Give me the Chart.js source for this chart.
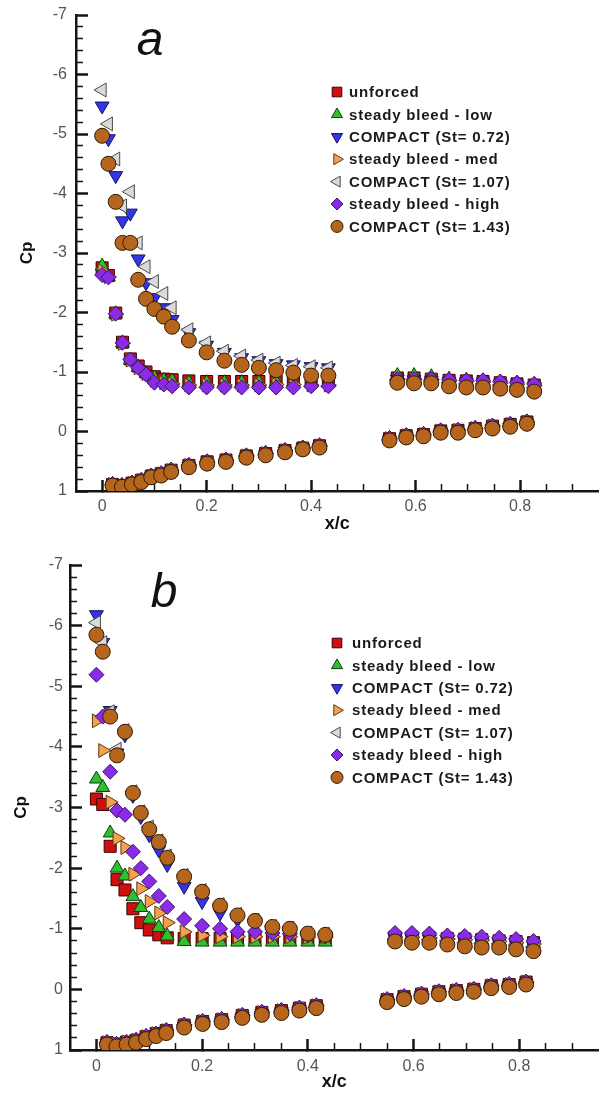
<!DOCTYPE html>
<html>
<head>
<meta charset="utf-8">
<script src="https://cdn.jsdelivr.net/npm/chart.js@4.4.1/dist/chart.umd.min.js"></script>
<style>
    html, body { margin: 0; padding: 0; background: #fff; }
    #wrap { position: relative; width: 608px; height: 1098px; }
    canvas { position: absolute; left: 0; }
</style>
</head>
<body>
<div id="wrap">
    <canvas id="chartA" width="608" height="549" style="top:0"></canvas>
    <canvas id="chartB" width="608" height="549" style="top:549px"></canvas>
</div>
<script>
// pressure tap stations: upper surface (front + aft), then lower surface
const xUpper = [0, 0.012, 0.026, 0.039, 0.054, 0.069, 0.084, 0.1, 0.118, 0.134, 0.166, 0.2, 0.234, 0.267, 0.3, 0.333, 0.366, 0.4, 0.433,
                0.565, 0.597, 0.63, 0.664, 0.697, 0.729, 0.762, 0.794, 0.827]
const xLower = [0.02, 0.038, 0.057, 0.075, 0.094, 0.113, 0.132, 0.166, 0.201, 0.237, 0.276, 0.313, 0.35, 0.384, 0.416,
                0.55, 0.582, 0.615, 0.648, 0.681, 0.714, 0.747, 0.781, 0.813]

const seriesNames = ['unforced', 'steady bleed - low', 'COMPACT (St= 0.72)', 'steady bleed - med',
                     'COMPACT (St= 1.07)', 'steady bleed - high', 'COMPACT (St= 1.43)']

const xTickVals = [0, 0.2, 0.4, 0.6, 0.8]
const xTickLabels = ['0', '0.2', '0.4', '0.6', '0.8']
const yTickVals = [-7, -6, -5, -4, -3, -2, -1, 0, 1]
const yTickLabels = ['-7', '-6', '-5', '-4', '-3', '-2', '-1', '0', '1']

// panel a : Cp upper (28) then lower (24)
const cpA_unforced = [-2.75, -2.62, -1.99, -1.5, -1.22, -1.1, -1.0, -0.92, -0.88, -0.87, -0.85, -0.84, -0.84, -0.84, -0.84, -0.85, -0.85, -0.84, -0.84,
                      -0.9, -0.9, -0.88, -0.86, -0.85, -0.84, -0.82, -0.8, -0.78,
                      0.89, 0.91, 0.87, 0.82, 0.75, 0.71, 0.65, 0.57, 0.51, 0.48, 0.41, 0.37, 0.32, 0.28, 0.24,
                      0.12, 0.07, 0.05, -0.01, -0.02, -0.05, -0.09, -0.12, -0.16]
const cpA_low = [-2.78, -2.6, -1.98, -1.49, -1.2, -1.08, -0.98, -0.9, -0.86, -0.85, -0.82, -0.82, -0.82, -0.82, -0.82, -0.83, -0.83, -0.82, -0.82,
                 -0.94, -0.94, -0.92, -0.88, -0.86, -0.85, -0.83, -0.81, -0.79,
                 0.89, 0.91, 0.87, 0.83, 0.75, 0.72, 0.66, 0.58, 0.52, 0.48, 0.42, 0.37, 0.33, 0.28, 0.25,
                 0.12, 0.08, 0.05, 0.0, -0.01, -0.05, -0.08, -0.11, -0.16]
const cpA_c072 = [-5.47, -4.92, -4.3, -3.54, -3.67, -2.9, -2.5, -2.25, -2.08, -1.88, -1.66, -1.45, -1.33, -1.24, -1.19, -1.14, -1.12, -1.09, -1.07,
                  -0.88, -0.87, -0.86, -0.84, -0.83, -0.82, -0.8, -0.78, -0.76,
                  0.9, 0.92, 0.88, 0.84, 0.76, 0.72, 0.67, 0.59, 0.53, 0.5, 0.43, 0.39, 0.34, 0.29, 0.26,
                  0.14, 0.09, 0.07, 0.01, 0.01, -0.03, -0.06, -0.09, -0.14]
const cpA_med = [-2.7, -2.6, -1.97, -1.48, -1.2, -1.07, -0.97, -0.86, -0.82, -0.8, -0.78, -0.78, -0.78, -0.78, -0.78, -0.79, -0.79, -0.78, -0.78,
                 -0.88, -0.88, -0.87, -0.85, -0.84, -0.83, -0.81, -0.79, -0.77,
                 0.89, 0.91, 0.87, 0.82, 0.75, 0.71, 0.66, 0.57, 0.52, 0.48, 0.41, 0.37, 0.32, 0.28, 0.24,
                 0.12, 0.07, 0.05, -0.01, -0.02, -0.05, -0.09, -0.12, -0.16]
const cpA_c107 = [-5.74, -5.17, -4.58, -3.79, -4.03, -3.17, -2.77, -2.52, -2.32, -2.08, -1.71, -1.49, -1.35, -1.27, -1.2, -1.15, -1.11, -1.09, -1.07,
                  -0.86, -0.85, -0.85, -0.82, -0.8, -0.8, -0.78, -0.76, -0.74,
                  0.9, 0.92, 0.88, 0.84, 0.76, 0.73, 0.67, 0.59, 0.53, 0.5, 0.43, 0.39, 0.34, 0.29, 0.26,
                  0.14, 0.09, 0.07, 0.01, 0.01, -0.03, -0.06, -0.09, -0.14]
const cpA_high = [-2.63, -2.59, -1.98, -1.49, -1.21, -1.07, -0.96, -0.82, -0.79, -0.76, -0.74, -0.74, -0.74, -0.74, -0.74, -0.74, -0.74, -0.76, -0.76,
                  -0.88, -0.88, -0.88, -0.87, -0.86, -0.86, -0.84, -0.82, -0.8,
                  0.88, 0.9, 0.86, 0.81, 0.74, 0.7, 0.64, 0.56, 0.5, 0.47, 0.4, 0.36, 0.31, 0.27, 0.23,
                  0.11, 0.06, 0.04, -0.02, -0.03, -0.06, -0.1, -0.13, -0.17]
const cpA_c143 = [-4.97, -4.5, -3.86, -3.17, -3.17, -2.55, -2.23, -2.06, -1.93, -1.76, -1.53, -1.33, -1.19, -1.12, -1.07, -1.03, -0.99, -0.94, -0.94,
                  -0.82, -0.81, -0.81, -0.76, -0.74, -0.74, -0.72, -0.7, -0.67,
                  0.91, 0.93, 0.89, 0.85, 0.77, 0.74, 0.68, 0.6, 0.54, 0.51, 0.44, 0.4, 0.35, 0.3, 0.27,
                  0.15, 0.1, 0.08, 0.02, 0.02, -0.02, -0.05, -0.08, -0.13]

// panel b
const cpB_unforced = [-3.14, -3.05, -2.36, -1.81, -1.64, -1.33, -1.1, -0.98, -0.9, -0.85, -0.84, -0.84, -0.84, -0.84, -0.84, -0.84, -0.84, -0.84, -0.84,
                      -0.86, -0.86, -0.85, -0.84, -0.83, -0.82, -0.8, -0.79, -0.77,
                      0.88, 0.9, 0.87, 0.84, 0.78, 0.73, 0.68, 0.59, 0.53, 0.5, 0.43, 0.38, 0.35, 0.31, 0.27,
                      0.17, 0.12, 0.08, 0.04, 0.02, 0.0, -0.06, -0.08, -0.12]
const cpB_low = [-3.47, -3.33, -2.58, -2.0, -1.87, -1.53, -1.35, -1.16, -1.02, -0.88, -0.79, -0.78, -0.78, -0.78, -0.78, -0.78, -0.78, -0.78, -0.78,
                 -0.85, -0.85, -0.84, -0.83, -0.82, -0.81, -0.8, -0.78, -0.76,
                 0.88, 0.91, 0.88, 0.85, 0.78, 0.74, 0.69, 0.6, 0.54, 0.5, 0.44, 0.39, 0.35, 0.31, 0.28,
                 0.18, 0.13, 0.09, 0.05, 0.03, 0.01, -0.05, -0.07, -0.11]
const cpB_c072 = [-6.18, -5.72, -4.6, -3.9, -4.2, -3.2, -2.85, -2.55, -2.3, -2.06, -1.7, -1.45, -1.26, -1.15, -1.08, -1.0, -0.97, -0.9, -0.88,
                  -0.84, -0.84, -0.83, -0.81, -0.79, -0.78, -0.77, -0.75, -0.72,
                  0.89, 0.92, 0.89, 0.86, 0.8, 0.75, 0.7, 0.61, 0.55, 0.52, 0.45, 0.4, 0.37, 0.33, 0.29,
                  0.19, 0.14, 0.1, 0.06, 0.04, 0.02, -0.04, -0.06, -0.1]
const cpB_med = [-4.43, -3.94, -3.09, -2.49, -2.34, -1.9, -1.66, -1.45, -1.26, -1.1, -0.95, -0.89, -0.87, -0.87, -0.87, -0.87, -0.87, -0.86, -0.86,
                 -0.86, -0.86, -0.85, -0.83, -0.82, -0.81, -0.79, -0.77, -0.75,
                 0.88, 0.9, 0.87, 0.84, 0.78, 0.73, 0.68, 0.59, 0.53, 0.5, 0.43, 0.38, 0.35, 0.31, 0.27,
                 0.17, 0.12, 0.08, 0.04, 0.02, 0.0, -0.06, -0.08, -0.12]
const cpB_c107 = [-6.05, -5.72, -4.58, -3.96, -4.27, -3.26, -2.93, -2.68, -2.45, -2.2, -1.88, -1.63, -1.4, -1.24, -1.14, -1.04, -1.01, -0.93, -0.91,
                  -0.83, -0.82, -0.82, -0.8, -0.77, -0.76, -0.75, -0.73, -0.7,
                  0.89, 0.92, 0.89, 0.86, 0.8, 0.75, 0.7, 0.61, 0.55, 0.52, 0.45, 0.4, 0.37, 0.33, 0.29,
                  0.19, 0.14, 0.1, 0.06, 0.04, 0.02, -0.04, -0.06, -0.1]
const cpB_high = [-5.19, -4.5, -3.59, -2.95, -2.88, -2.27, -2.0, -1.78, -1.54, -1.36, -1.16, -1.05, -1.0, -0.95, -0.95, -0.93, -0.92, -0.9, -0.9,
                  -0.93, -0.93, -0.92, -0.89, -0.88, -0.87, -0.85, -0.83, -0.8,
                  0.87, 0.9, 0.87, 0.83, 0.77, 0.73, 0.67, 0.58, 0.52, 0.49, 0.42, 0.37, 0.34, 0.3, 0.26,
                  0.16, 0.11, 0.07, 0.03, 0.01, -0.01, -0.07, -0.09, -0.13]
const cpB_c143 = [-5.85, -5.57, -4.5, -3.86, -4.25, -3.24, -2.91, -2.64, -2.43, -2.17, -1.86, -1.61, -1.38, -1.22, -1.13, -1.03, -1.0, -0.92, -0.9,
                  -0.79, -0.77, -0.77, -0.74, -0.71, -0.69, -0.69, -0.66, -0.63,
                  0.91, 0.94, 0.91, 0.88, 0.82, 0.77, 0.72, 0.63, 0.57, 0.54, 0.47, 0.42, 0.39, 0.35, 0.31,
                  0.21, 0.16, 0.12, 0.08, 0.06, 0.04, -0.02, -0.04, -0.08]

const panelA = [cpA_unforced, cpA_low, cpA_c072, cpA_med, cpA_c107, cpA_high, cpA_c143]
const panelB = [cpB_unforced, cpB_low, cpB_c072, cpB_med, cpB_c107, cpB_high, cpB_c143]

// marker styles, same order as seriesNames
const markers = [
    {style: 'rect',     rot: 0,   r: 8.5, fill: '#d01010', line: '#3c0000'},
    {style: 'triangle', rot: 0,   r: 8,   fill: '#2fbf2f', line: '#103c10'},
    {style: 'triangle', rot: 180, r: 8,   fill: '#3535e6', line: '#14145a'},
    {style: 'triangle', rot: 90,  r: 8,   fill: '#f4a04c', line: '#5c3a12'},
    {style: 'triangle', rot: 270, r: 8,   fill: '#dadada', line: '#4a4a4a'},
    {style: 'rectRot',  rot: 0,   r: 7.5, fill: '#8a2be8', line: '#3c1464'},
    {style: 'circle',   rot: 0,   r: 7.5, fill: '#b6651d', line: '#2e1a06'}
]

const xTaps = xUpper.concat(xLower)
const FONT = 'Arial, "Liberation Sans", sans-serif'
const AXIS = '#141414'

// minor tick positions (not labelled): every 0.05 in x, every 0.2 in Cp
const xMinor = []
for(let i = 1; i < 20; i++) if(i % 4 !== 1) xMinor.push(+(-0.05 + i * 0.05).toFixed(2))
const yMinor = []
for(let i = 0; i <= 40; i++) if(i % 5 !== 0) yMinor.push(+(-7 + i * 0.2).toFixed(1))

// panel letter and legend box
const panelDecor = {
    id: 'panelDecor',
    afterDraw(chart, args, opts){
        const ctx = chart.ctx
        ctx.save()
        ctx.fillStyle = '#111'
        ctx.font = 'italic 48px ' + FONT
        ctx.textAlign = 'center'
        ctx.textBaseline = 'alphabetic'
        ctx.fillText(opts.letter, opts.letterX, opts.letterY)

        ctx.font = 'bold 15px ' + FONT
        ctx.textAlign = 'left'
        ctx.textBaseline = 'middle'
        seriesNames.forEach((name, i) => {
            const m = markers[i]
            const yy = opts.legendY + i * opts.rowH
            ctx.fillStyle = m.fill
            ctx.strokeStyle = m.line
            ctx.lineWidth = 1
            Chart.helpers.drawPoint(ctx, {pointStyle: m.style, rotation: m.rot, radius: m.r * 0.8, borderWidth: 1},
                opts.legendX, yy)
            ctx.fillStyle = '#1a1a1a'
            // spread the letters a little like the original bold font
            let tx = opts.textX
            for(const ch of name){
                ctx.fillText(ch, tx, yy + 1)
                tx += ctx.measureText(ch).width + 0.8
            }
        })
        ctx.restore()
    }
}

// inward major ticks come from the main axes, minor ones from a zero-size twin axis
function tickGrid(len, width){
    return {display: true, drawOnChartArea: false, drawTicks: true, tickLength: -len, tickWidth: width, tickColor: AXIS}
}

function buildPanel(canvasId, values, geo){
    const datasets = values.map((cp, i) => ({
        label: seriesNames[i],
        data: xTaps.map((x, k) => ({x: x, y: cp[k]})),
        pointStyle: markers[i].style,
        pointRotation: markers[i].rot,
        pointRadius: markers[i].r,
        pointBackgroundColor: markers[i].fill,
        pointBorderColor: markers[i].line,
        pointBorderWidth: 1,
        showLine: false,
        order: values.length - i
    }))

    return new Chart(document.getElementById(canvasId), {
        type: 'scatter',
        data: {datasets},
        plugins: [panelDecor],
        options: {
            responsive: false,
            animation: false,
            devicePixelRatio: 1,
            events: [],
            layout: {padding: {top: geo.top, right: geo.right, left: 0, bottom: 0}},
            plugins: {
                legend: {display: false},
                tooltip: {enabled: false},
                panelDecor: geo.decor
            },
            scales: {
                x: {
                    type: 'linear', min: -0.05, max: 0.95, weight: 1,
                    afterBuildTicks: s => { s.ticks = xTickVals.map(v => ({value: v})) },
                    afterFit: s => { s.height = geo.xAxisH; s.paddingLeft = 0; s.paddingRight = 0 },
                    grid: tickGrid(11, 2.5),
                    border: {display: true, width: 2.5, color: AXIS},
                    ticks: {autoSkip: false, maxRotation: 0, padding: geo.xPad + 11, color: '#555',
                            font: {family: FONT, size: 16}, callback: (v, i) => xTickLabels[i]},
                    title: {display: true, text: 'x/c', color: '#111',
                            font: {family: FONT, size: 18, weight: 'bold'}, padding: {top: 0, bottom: geo.xTitlePad}}
                },
                xMinor: {
                    type: 'linear', axis: 'x', position: 'bottom', min: -0.05, max: 0.95, weight: -1,
                    afterBuildTicks: s => { s.ticks = xMinor.map(v => ({value: v})) },
                    afterFit: s => { s.height = 0; s.paddingLeft = 0; s.paddingRight = 0 },
                    grid: tickGrid(7, 1.5),
                    border: {display: false},
                    ticks: {display: false, autoSkip: false}
                },
                y: {
                    type: 'linear', min: -7, max: 1, reverse: true, weight: 1,
                    afterBuildTicks: s => { s.ticks = yTickVals.map(v => ({value: v})) },
                    afterFit: s => { s.width = geo.yAxisW; s.paddingTop = 0; s.paddingBottom = 0 },
                    grid: tickGrid(12, 2.5),
                    border: {display: true, width: 2.5, color: AXIS},
                    ticks: {autoSkip: false, padding: geo.yPad + 12, color: '#555',
                            font: {family: FONT, size: 16}, callback: (v, i) => yTickLabels[i]},
                    title: {display: true, text: 'Cp', color: '#111',
                            font: {family: FONT, size: 17, weight: 'bold'}, padding: {top: geo.yTitlePad, bottom: 0}}
                },
                yMinor: {
                    type: 'linear', axis: 'y', position: 'left', min: -7, max: 1, reverse: true, weight: -1,
                    afterBuildTicks: s => { s.ticks = yMinor.map(v => ({value: v})) },
                    afterFit: s => { s.width = 0; s.paddingTop = 0; s.paddingBottom = 0 },
                    grid: tickGrid(7, 1.5),
                    border: {display: false},
                    ticks: {display: false, autoSkip: false}
                }
            }
        }
    })
}

buildPanel('chartA', panelA, {
    top: 15, right: 7, xAxisH: 58, yAxisW: 76, xPad: 6, yPad: 9, xTitlePad: 14, yTitlePad: 17,
    decor: {letter: 'a', letterX: 150, letterY: 55, legendX: 337, legendY: 92, rowH: 22.4, textX: 349}
})

buildPanel('chartB', panelB, {
    top: 16, right: 3, xAxisH: 48, yAxisW: 70, xPad: 7, yPad: 7, xTitlePad: 5, yTitlePad: 11,
    decor: {letter: 'b', letterX: 164, letterY: 58, legendX: 337, legendY: 94, rowH: 22.4, textX: 352}
})
</script>
</body>
</html>
